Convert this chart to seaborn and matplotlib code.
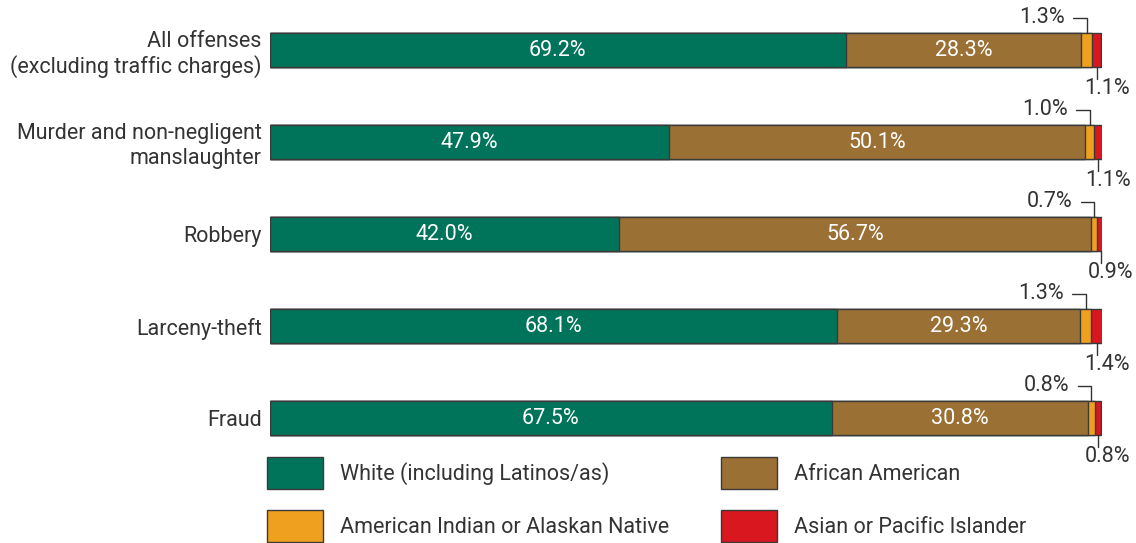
import numpy as np
import pandas as pd
import matplotlib
matplotlib.use("Agg")
import matplotlib.pyplot as plt
from matplotlib.patches import Patch
import seaborn as sns

offenses = ["All offenses\n(excluding traffic charges)",
            "Murder and non-negligent\nmanslaughter",
            "Robbery", "Larceny-theft", "Fraud"]
white = [69.2, 47.9, 42.0, 68.1, 67.5]
black = [28.3, 50.1, 56.7, 29.3, 30.8]
aian = [1.3, 1.0, 0.7, 1.3, 0.8]
api = [1.1, 1.1, 0.9, 1.4, 0.8]

groups = ["White (including Latinos/as)", "African American",
          "American Indian or Alaskan Native", "Asian or Pacific Islander"]
colors = ["#00745a", "#9b7035", "#efa01e", "#d8171f"]
edge = "#3a3a3a"
txt = "#333333"
fs = 15.5

sns.set_theme(style="white")
plt.rcParams["font.family"] = ["Roboto", "DejaVu Sans"]
plt.rcParams["font.weight"] = "normal"

df = pd.DataFrame({"offense": offenses, "white": white, "black": black,
                   "aian": aian, "api": api})
df["c1"] = df["white"]
df["c2"] = df["c1"] + df["black"]
df["c3"] = df["c2"] + df["aian"]
df["c4"] = df["c3"] + df["api"]

W, H = 1136, 543
fig = plt.figure(figsize=(W / 100, H / 100), dpi=100)
ax = fig.add_axes([270 / W, 1 - 464 / H, 832 / W, 460 / H])

bh = 0.36
# stacked bars drawn as overlapping cumulative totals
for col, c in zip(["c4", "c3", "c2", "c1"], colors[::-1]):
    sns.barplot(data=df, x=col, y="offense", orient="h", color=c, width=bh,
                edgecolor=edge, linewidth=1.0, saturation=1, ax=ax)

ax.set_xlim(0, 100)
ax.set_ylim(4.5, -0.5)
ax.set_xlabel("")
ax.set_ylabel("")
ax.set_xticks([])
ax.tick_params(axis="y", length=0, pad=6, labelsize=fs, labelcolor=txt)
for lab in ax.get_yticklabels():
    lab.set_horizontalalignment("right")
    lab.set_multialignment("right")
sns.despine(ax=ax, left=True, bottom=True)

for i in range(len(offenses)):
    # labels inside the two large segments
    ax.text(white[i] / 2, i, f"{white[i]:.1f}%", ha="center", va="center",
            color="white", fontsize=fs)
    ax.text(df["c1"][i] + black[i] / 2, i, f"{black[i]:.1f}%", ha="center",
            va="center", color="white", fontsize=fs)
    # leader for the orange segment (above, to the left)
    xo = df["c2"][i] + aian[i] / 2
    yt = i - bh / 2
    ya = yt - 0.17
    ax.plot([xo, xo, xo - 1.6], [yt, ya, ya], color=txt, lw=1, clip_on=False)
    ax.text(xo - 2.6, ya, f"{aian[i]:.1f}%", ha="right", va="center",
            color=txt, fontsize=fs, clip_on=False)
    # leader for the red segment (below)
    xr = df["c3"][i] + api[i] / 2
    yb = i + bh / 2
    ax.plot([xr, xr], [yb, yb + 0.13], color=txt, lw=1, clip_on=False)
    ax.text(xr + 1.2, yb + 0.12, f"{api[i]:.1f}%", ha="center", va="top",
            color=txt, fontsize=fs, clip_on=False)

handles = [Patch(facecolor=c, edgecolor=edge, linewidth=1, label=g)
           for c, g in zip(colors, groups)]
order = [0, 2, 1, 3]
fig.legend(handles=[handles[k] for k in order],
           labels=[groups[k] for k in order], ncol=2, frameon=False,
           loc="upper left", bbox_to_anchor=(267 / W, 1 - 457 / H),
           fontsize=fs, labelcolor=txt, borderpad=0, borderaxespad=0,
           handlelength=2.6, handleheight=1.93, handletextpad=0.79,
           labelspacing=0.97, columnspacing=2.4)

fig.savefig("out.png", dpi=100)
